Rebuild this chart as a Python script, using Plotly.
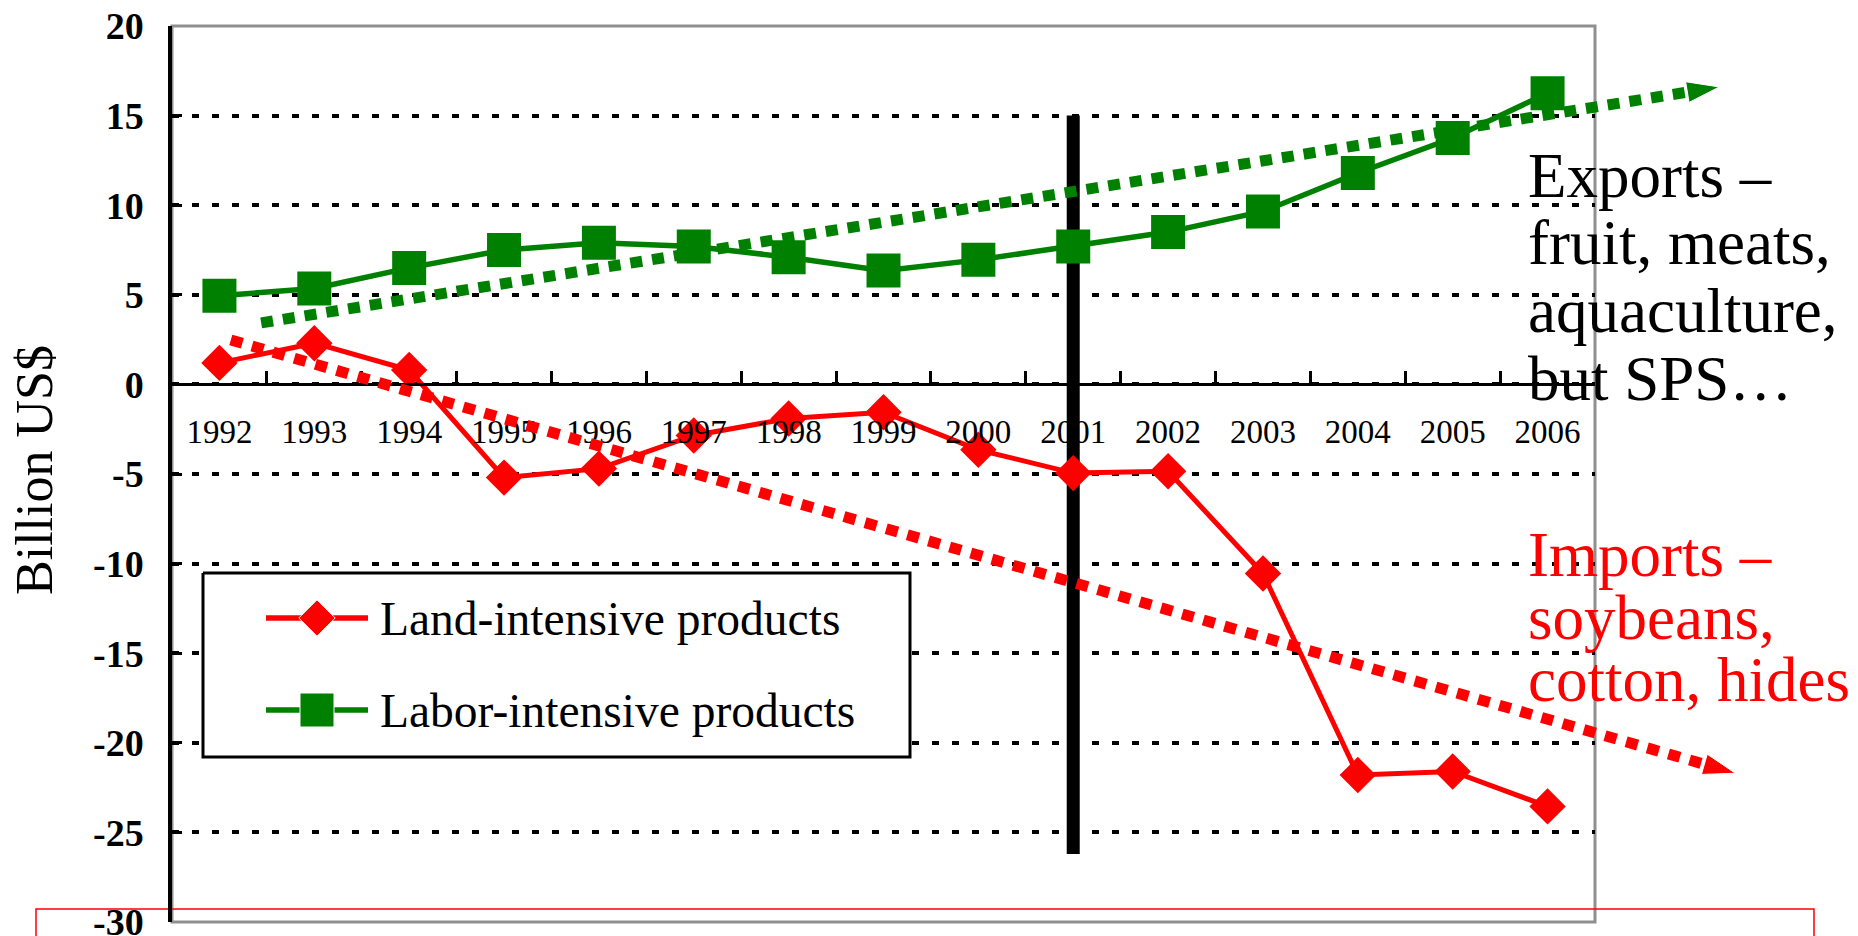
import plotly.graph_objects as go

# ---- data -------------------------------------------------------------
years = ["1992", "1993", "1994", "1995", "1996", "1997", "1998", "1999",
         "2000", "2001", "2002", "2003", "2004", "2005", "2006"]
land_intensive = [1.2, 2.3, 0.8, -5.2, -4.7, -2.85, -1.9, -1.55,
                  -3.65, -4.95, -4.85, -10.55, -21.8, -21.6, -23.55]
labor_intensive = [4.95, 5.35, 6.5, 7.5, 7.9, 7.7, 7.1, 6.35,
                   6.95, 7.7, 8.5, 9.65, 11.8, 13.75, 16.25]

# trend arrows: (category position, value) at start and tip
labor_trend_x = [0.44, 15.81]
labor_trend_y = [3.43, 16.6]
land_trend_x = [0.12, 15.98]
land_trend_y = [2.48, -21.7]

# WTO accession marker
policy_year = "2001"
policy_span = [15, -26.2]

y_ticks = [-30, -25, -20, -15, -10, -5, 0, 5, 10, 15, 20]
y_tick_labels = ["-30", "-25", "-20", "-15", "-10", "-5", "0", "5", "10", "15", "20"]

# ---- page geometry (pixels) ------------------------------------------
W, H = 1858, 936
PL, PR, PT, PB = 172, 1595, 26, 922          # plot frame
Y_MIN, Y_MAX = -30, 20
N_CAT = len(years)
cat_px = (PR - PL) / N_CAT


def fx(px):
    return px / W


def fy(py):
    return 1 - py / H


SERIF = "Liberation Serif"
RED = "#ff0000"
GREEN = "#008000"

y_dom = [fy(PB), fy(PT)]
zero_pos = y_dom[0] + (0 - Y_MIN) / (Y_MAX - Y_MIN) * (y_dom[1] - y_dom[0])

fig = go.Figure()

# vertical marker line
fig.add_trace(go.Scatter(
    x=[policy_year, policy_year], y=policy_span, mode="lines",
    line=dict(color="black", width=13), showlegend=False, hoverinfo="skip",
    xaxis="x", yaxis="y"))

# data series
fig.add_trace(go.Scatter(
    x=years, y=land_intensive, mode="lines+markers", name="Land-intensive products",
    line=dict(color=RED, width=5),
    marker=dict(symbol="diamond", size=28, color=RED, opacity=1),
    showlegend=False, xaxis="x", yaxis="y"))
fig.add_trace(go.Scatter(
    x=years, y=labor_intensive, mode="lines+markers", name="Labor-intensive products",
    line=dict(color=GREEN, width=5.5),
    marker=dict(symbol="square", size=34, color=GREEN, opacity=1),
    showlegend=False, xaxis="x", yaxis="y"))

# dotted trend arrows (on a wider, invisible axis pair so they can leave the frame)
for tx, ty, col in [(labor_trend_x, labor_trend_y, GREEN),
                    (land_trend_x, land_trend_y, RED)]:
    fig.add_trace(go.Scatter(
        x=tx, y=ty, mode="lines+markers",
        line=dict(color=col, width=11, dash="12px,10px"),
        marker=dict(symbol="arrow", size=[0, 34], color=col, opacity=1,
                    angleref="previous"),
        showlegend=False, hoverinfo="skip", xaxis="x2", yaxis="y2"))

# legend (drawn in page pixel space)
LB = dict(x0=203, x1=910, y0=573, y1=757)
fig.add_trace(go.Scatter(
    x=[LB["x0"], LB["x1"], LB["x1"], LB["x0"], LB["x0"]],
    y=[LB["y0"], LB["y0"], LB["y1"], LB["y1"], LB["y0"]],
    mode="lines", fill="toself", fillcolor="white",
    line=dict(color="black", width=3), showlegend=False, hoverinfo="skip",
    xaxis="x3", yaxis="y3"))
legend_rows = [("Land-intensive products", RED, "diamond", 28, 618),
               ("Labor-intensive products", GREEN, "square", 34, 710)]
for label, col, sym, size, yy in legend_rows:
    fig.add_trace(go.Scatter(
        x=[266, 317, 368], y=[yy, yy, yy], mode="lines+markers",
        line=dict(color=col, width=5.5),
        marker=dict(symbol=sym, size=[0, size, 0], color=col, opacity=1),
        showlegend=False, hoverinfo="skip", xaxis="x3", yaxis="y3"))
    fig.add_annotation(x=fx(378), y=fy(yy + 1), xref="paper", yref="paper",
                       text=label, showarrow=False, xanchor="left", yanchor="middle",
                       font=dict(family=SERIF, size=47.5, color="black"))

# side notes
exports_lines = ["Exports \u2013", "fruit, meats,", "aquaculture,", "but SPS\u2026"]
imports_lines = ["Imports \u2013", "soybeans,", "cotton, hides"]
for i, t in enumerate(exports_lines):
    fig.add_annotation(x=fx(1526), y=fy(176 + 67.5 * i), xref="paper", yref="paper",
                       text=t, showarrow=False, xanchor="left", yanchor="middle",
                       font=dict(family=SERIF, size=63, color="black"))
for i, t in enumerate(imports_lines):
    fig.add_annotation(x=fx(1526), y=fy(555 + 62.5 * i), xref="paper", yref="paper",
                       text=t, showarrow=False, xanchor="left", yanchor="middle",
                       font=dict(family=SERIF, size=63, color=RED))

# axis title
fig.add_annotation(x=fx(34), y=fy(470), xref="paper", yref="paper",
                   text="Billion US$", textangle=-90, showarrow=False,
                   xanchor="center", yanchor="middle",
                   font=dict(family=SERIF, size=52, color="black"))

# frame and outline box
fig.add_shape(type="rect", xref="x domain", yref="y domain", x0=0, x1=1, y0=0, y1=1,
              line=dict(color="#8f8f8f", width=3), layer="below")
fig.add_shape(type="rect", xref="paper", yref="paper",
              x0=fx(36), x1=fx(1814), y0=fy(960), y1=fy(909),
              line=dict(color=RED, width=1.5), layer="below")

fig.update_layout(
    width=W, height=H,
    margin=dict(l=0, r=0, t=0, b=0, autoexpand=False),
    paper_bgcolor="white", plot_bgcolor="rgba(0,0,0,0)",
    showlegend=False, hovermode=False,
    xaxis=dict(
        type="category", categoryorder="array", categoryarray=years,
        domain=[fx(PL), fx(PR)], range=[-0.5, N_CAT - 0.5],
        anchor="free", position=zero_pos, automargin=False,
        showline=True, linecolor="black", linewidth=3,
        ticks="inside", tickson="boundaries", ticklen=12, tickwidth=2.5,
        tickcolor="black", showgrid=False, zeroline=False,
        tickfont=dict(family=SERIF, size=33, color="black"),
        ticklabelstandoff=17,
    ),
    yaxis=dict(
        domain=y_dom, range=[Y_MIN, Y_MAX], anchor="x", automargin=False,
        tickvals=y_ticks, ticktext=["<b>%s</b>" % t for t in y_tick_labels],
        showline=True, linecolor="black", linewidth=3.5,
        ticks="inside", ticklen=10, tickwidth=3, tickcolor="black",
        showgrid=True, gridcolor="black", gridwidth=3.5, griddash="7px,13px",
        zeroline=False, ticklabeloverflow="allow",
        tickfont=dict(family=SERIF, size=38, color="black"),
        ticklabelstandoff=17,
    ),
    xaxis2=dict(domain=[fx(PL), 1], range=[-0.5, -0.5 + (W - PL) / cat_px],
                visible=False, anchor="y2", automargin=False),
    yaxis2=dict(domain=y_dom, range=[Y_MIN, Y_MAX], visible=False, anchor="x2",
                automargin=False),
    xaxis3=dict(domain=[0, 1], range=[0, W], visible=False, anchor="y3",
                automargin=False),
    yaxis3=dict(domain=[0, 1], range=[H, 0], visible=False, anchor="x3",
                automargin=False),
)

fig.write_html("out.html")
